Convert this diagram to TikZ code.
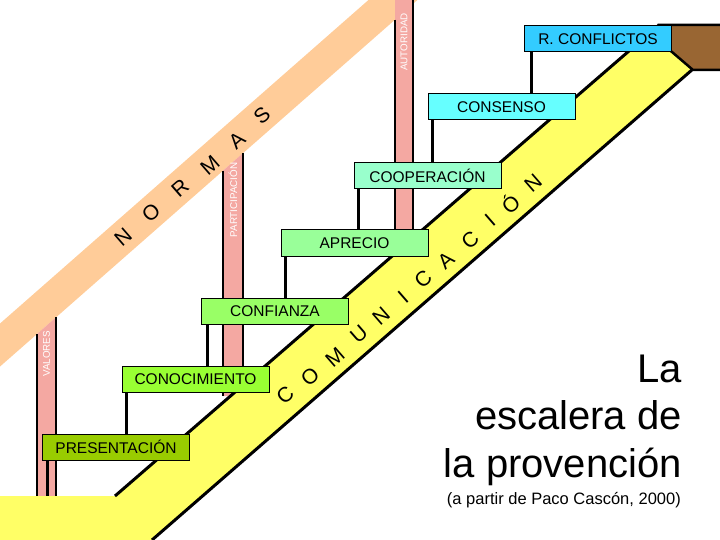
\documentclass[tikz,border=0pt]{standalone}
\usepackage{fontspec}
\setmainfont{Liberation Sans}
\definecolor{bandorange}{RGB}{255,204,153}
\definecolor{postpink}{RGB}{244,168,162}
\definecolor{stairyellow}{RGB}{255,255,102}
\definecolor{capbrown}{RGB}{153,102,51}
\definecolor{cpres}{RGB}{153,204,0}
\definecolor{ccono}{RGB}{153,255,51}
\definecolor{cconf}{RGB}{153,255,102}
\definecolor{capre}{RGB}{153,255,153}
\definecolor{ccoop}{RGB}{153,255,204}
\definecolor{ccons}{RGB}{102,255,255}
\definecolor{crcon}{RGB}{51,204,255}
\begin{document}
\begin{tikzpicture}[x=1pt,y=-1pt,
  stepbox/.style={draw=black, line width=1pt, minimum width=147pt, minimum height=26pt,
    inner sep=0pt, font=\fontsize{15.5}{18}\selectfont},
  riser/.style={line width=3pt, draw=black},
  stairedge/.style={line width=3pt, draw=black},
  postline/.style={line width=1.3pt, draw=black},
  postlabel/.style={rotate=90, text=white, font=\fontsize{9.8}{10}\selectfont, inner sep=0pt},
  bandletter/.style={rotate=41, font=\fontsize{21}{22}\selectfont, inner sep=0pt},
  titletext/.style={anchor=base east, inner sep=0pt, font=\fontsize{40}{47}\selectfont},
]
\useasboundingbox (0,0) rectangle (720,540);
\clip (0,0) rectangle (720,540);

% NORMAS band
\fill[bandorange] (-20,341.1) -- (440,-62.8) -- (440,-19.8) -- (-20,384.1) -- cycle;

% posts
\fill[postpink] (37,334) -- (56,317.3) -- (56,497) -- (37,497) -- cycle;
\draw[postline] (37,334) -- (37,497) (56,317.3) -- (56,497);
\fill[postpink] (223,170.7) -- (243,153.1) -- (243,396) -- (223,396) -- cycle;
\draw[postline] (223,170.7) -- (223,396) (243,153.1) -- (243,396);
\fill[postpink] (395,-2) -- (413,-2) -- (413,245) -- (395,245) -- cycle;
\draw[postline] (395,19.7) -- (395,245) (413,-2) -- (413,245);

\node[postlabel] (valores) at (46.5,354) {VALORES};
\node[postlabel] (particip) at (233,200) {PARTICIPACIÓN};
\node[postlabel] (autoridad) at (404,42) {AUTORIDAD};

% staircase stringer and floor
\fill[stairyellow] (0,496) -- (115,496) -- (659,25) -- (705,25) -- (705,57.8) -- (152,540) -- (0,540) -- cycle;
\coordinate (ua) at (115,496);
\coordinate (ub) at (659,25);
\coordinate (la) at (152,540);
\coordinate (lb) at (693,69);
\draw[stairedge] (ua) -- (ub);
\draw[stairedge] (la) -- (lb);

% landing cap
\filldraw[fill=capbrown, draw=black, line width=2.5pt]
  (659,25) -- (725,25) -- (725,70) -- (693,70) -- (660,41.7) -- cycle;

% steps
\node[stepbox, fill=cpres] (pres) at (116,447) {PRESENTACIÓN\hspace{7pt}};
\node[stepbox, fill=ccono] (cono) at (195.5,379) {CONOCIMIENTO\hspace{8pt}};
\node[stepbox, fill=cconf] (conf) at (275,311) {CONFIANZA};
\node[stepbox, fill=capre] (apre) at (354.5,243) {APRECIO};
\node[stepbox, fill=ccoop] (coop) at (427.5,175.5) {COOPERACIÓN\hspace{12pt}};
\node[stepbox, fill=ccons] (cons) at (501.5,107) {CONSENSO};
\node[stepbox, fill=crcon] (rcon) at (598,39) {R. CONFLICTOS\hspace{10pt}};

% risers
\coordinate (floor) at (0,496);
\coordinate (r1) at ([xshift=5pt]pres.south west);
\coordinate (r2) at ([xshift=5pt]cono.south west);
\coordinate (r3) at ([xshift=6pt]conf.south west);
\coordinate (r4) at ([xshift=5pt]apre.south west);
\coordinate (r5) at ([xshift=5pt]coop.south west);
\coordinate (r6) at ([xshift=5pt]cons.south west);
\coordinate (r7) at ([xshift=7pt]rcon.south west);
\draw[riser] (r1) -- (r1 |- floor);
\draw[riser] (r2) -- (r2 |- pres.north);
\draw[riser] (r3) -- (r3 |- cono.north);
\draw[riser] (r4) -- (r4 |- conf.north);
\draw[riser] (r5) -- (r5 |- apre.north);
\draw[riser] (r6) -- (r6 |- coop.north);
\draw[riser] (r7) -- (r7 |- cons.north);

% NORMAS letters
\foreach \ch/\px/\py [count=\i] in {N/123/237, O/151/213, R/180/188, M/210/165, A/237/140, S/262/115}
  \node[bandletter] (norm\i) at (\px,\py) {\ch};

% COMUNICACION letters
\foreach \ch/\px/\py [count=\i] in {C/285/395, O/310/377, M/335/357, U/359/334, N/381/316, I/403/297, C/423/279, A/446/260, C/470/240, I/490/220, Ó/510/203, N/533/183}
  \node[bandletter] (com\i) at (\px,\py) {\ch};

% title
\node[titletext] (t1) at (682,382) {La};
\node[titletext] (t2) at (682,429) {escalera de};
\node[titletext] (t3) at (682,477) {la provención};
\node[anchor=base east, inner sep=0pt, font=\fontsize{16.5}{19}\selectfont] (credit) at (681,504) {(a partir de Paco Cascón, 2000)};
\end{tikzpicture}
\end{document}
